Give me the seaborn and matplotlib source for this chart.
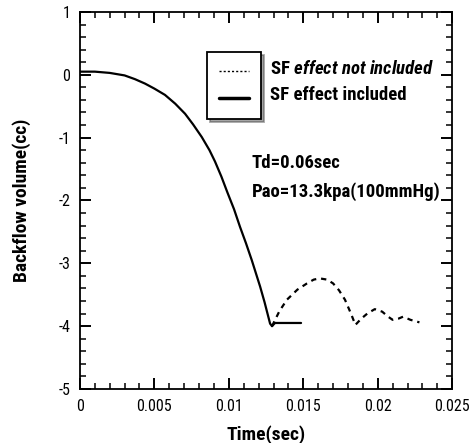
"""
Backflow volume vs time (SF effect comparison)
"""
import numpy as np
import pandas as pd
import matplotlib
matplotlib.use('Agg')
import matplotlib.pyplot as plt
import seaborn as sns
from matplotlib.lines import Line2D
from matplotlib.ticker import MultipleLocator

# --- data ---
t_fall = [0.0, 0.0010, 0.0020, 0.0030, 0.0037, 0.00437, 0.0050, 0.00571, 0.0064,
          0.00706, 0.0076, 0.00818, 0.0087, 0.00907, 0.0095, 0.0099, 0.01035,
          0.01075, 0.01115, 0.01154, 0.0119, 0.0121, 0.0124, 0.01277, 0.0129]
v_fall = [0.05, 0.05, 0.03, -0.01, -0.07, -0.14, -0.22, -0.32, -0.46,
          -0.62, -0.79, -0.99, -1.20, -1.38, -1.62, -1.87, -2.14,
          -2.42, -2.68, -2.95, -3.22, -3.37, -3.62, -3.96, -4.00]

t_inc = [0.0129, 0.0131, 0.0140, 0.01485]
v_inc = [-4.00, -3.95, -3.95, -3.95]

t_not = [0.0129, 0.0134, 0.0139, 0.0146, 0.01525, 0.0157, 0.0161, 0.0166, 0.0170,
         0.0174, 0.0178, 0.0182, 0.0185, 0.0189, 0.0193, 0.0198, 0.0203,
         0.0207, 0.0210, 0.0214, 0.0217, 0.0222, 0.0228]
v_not = [-4.00, -3.76, -3.58, -3.42, -3.32, -3.26, -3.24, -3.26, -3.32,
         -3.43, -3.58, -3.80, -3.98, -3.88, -3.80, -3.73, -3.77,
         -3.85, -3.90, -3.88, -3.85, -3.90, -3.94]

x_ticks = [0, 0.005, 0.01, 0.015, 0.02, 0.025]
x_labels = ['0', '0.005', '0.01', '0.015', '0.02', '0.025']
y_ticks = [1, 0, -1, -2, -3, -4, -5]

sns.set_style("ticks")
plt.rcParams.update({
    'font.family': ['Roboto Condensed', 'Liberation Sans Narrow', 'DejaVu Sans'],
    'axes.unicode_minus': False,
    'text.color': 'black',
    'axes.labelcolor': 'black',
    'axes.edgecolor': 'black',
    'axes.linewidth': 1.3,
    'mathtext.fontset': 'custom',
    'mathtext.it': 'Roboto Condensed:italic:bold',
    'mathtext.rm': 'Roboto Condensed:bold',
})

fig = plt.figure(figsize=(4.73, 4.43), dpi=100)
ax = fig.add_axes([0.169, 0.122, 0.787, 0.851])

sns.lineplot(x=t_fall, y=v_fall, color='black', lw=1.6, sort=False, ax=ax)
sns.lineplot(x=t_inc, y=v_inc, color='black', lw=1.6, sort=False, ax=ax)
sns.lineplot(x=t_not, y=v_not, color='black', lw=1.6, sort=False, ax=ax,
             linestyle=(0, (2.4, 2.2)))

ax.set_xlim(0, 0.025)
ax.set_ylim(-5, 1)
ax.set_xticks(x_ticks)
ax.set_xticklabels(x_labels)
ax.set_yticks(y_ticks)
ax.set_yticklabels([str(v) for v in y_ticks])
ax.xaxis.set_minor_locator(MultipleLocator(0.001))
ax.yaxis.set_minor_locator(MultipleLocator(0.2))
for sp in ax.spines.values():
    sp.set_visible(True)
ax.set_axisbelow(False)

ax.tick_params(axis='both', which='both', direction='in', top=True, bottom=True,
               left=True, right=True, color='black', labelcolor='black',
               labelsize=11.5, pad=7)
ax.tick_params(axis='both', which='major', length=8, width=1.4)
ax.tick_params(axis='both', which='minor', length=4, width=1.1)

ax.set_xlabel('Time(sec)', fontsize=14, fontweight='bold', labelpad=8)
ax.set_ylabel('Backflow volume(cc)', fontsize=14, fontweight='bold', labelpad=20)

# legend box with line samples only, text placed beside it
handles = [Line2D([], [], color='black', lw=1, linestyle=(0, (1.5, 1.5))),
           Line2D([], [], color='black', lw=2.5)]
leg = ax.legend(handles, ['', ''], loc='upper left', bbox_to_anchor=(0.341, 0.894),
                borderaxespad=0, frameon=True, fancybox=False, shadow=True,
                handlelength=2.1, handletextpad=0, labelspacing=1.0,
                borderpad=0.9, fontsize=10)
leg.get_frame().set_edgecolor('black')
leg.get_frame().set_linewidth(1.3)

ax.text(0.511, 0.849, 'SF $\\it{effect\\ not\\ included}$', transform=ax.transAxes,
        fontsize=13.5, fontweight='bold', va='center')
ax.text(0.511, 0.780, 'SF effect included', transform=ax.transAxes,
        fontsize=13.5, fontweight='bold', va='center')
ax.text(0.462, 0.600, 'Td=0.06sec', transform=ax.transAxes,
        fontsize=13.5, fontweight='bold', va='center')
ax.text(0.462, 0.523, 'Pao=13.3kpa(100mmHg)', transform=ax.transAxes,
        fontsize=13.5, fontweight='bold', va='center')

plt.savefig('out.png', dpi=100)
